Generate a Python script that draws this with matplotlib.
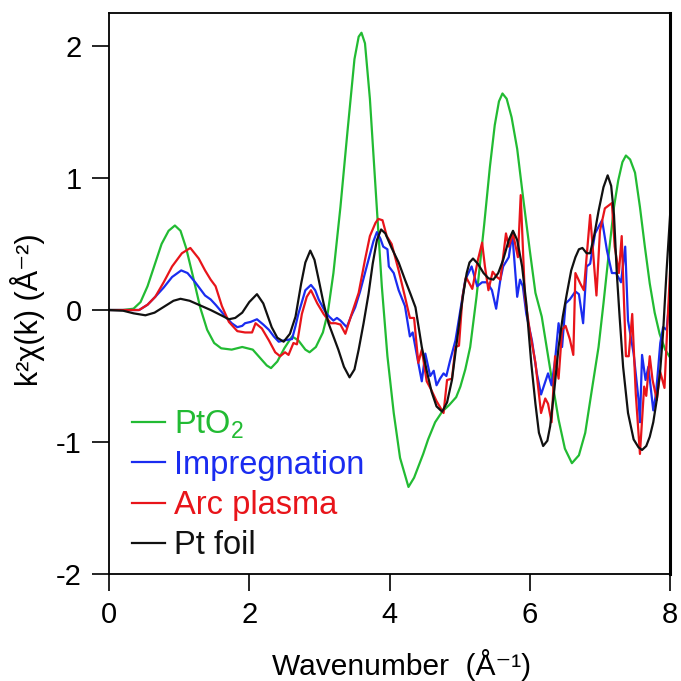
import matplotlib
matplotlib.use('Agg')
import matplotlib.pyplot as plt
import numpy as np

plt.rcParams['font.family'] = ['Liberation Sans', 'DejaVu Sans']
plt.rcParams['mathtext.fontset'] = 'custom'
plt.rcParams['mathtext.rm'] = 'Liberation Sans'
plt.rcParams['mathtext.it'] = 'Liberation Sans'
plt.rcParams['mathtext.default'] = 'rm'
plt.rcParams['axes.unicode_minus'] = False
plt.rcParams['font.size'] = 21

# PtO2 reference
k_pto2 = [0.00, 0.20, 0.35, 0.45, 0.55, 0.65, 0.75, 0.85, 0.94, 1.02, 1.10, 1.20, 1.30, 1.40, 1.50, 1.60,
          1.75, 1.90, 2.05, 2.15, 2.25, 2.31, 2.40, 2.50, 2.61, 2.70, 2.80, 2.86, 2.95, 3.05, 3.12, 3.20,
          3.30, 3.40, 3.50, 3.56, 3.60, 3.65, 3.72, 3.80, 3.89, 3.97, 4.06, 4.15, 4.27, 4.35, 4.48, 4.55,
          4.65, 4.75, 4.85, 4.95, 5.01, 5.08, 5.15, 5.24, 5.30, 5.35, 5.43, 5.50, 5.56, 5.61, 5.67, 5.74,
          5.82, 5.90, 6.00, 6.08, 6.17, 6.30, 6.41, 6.50, 6.60, 6.70, 6.79, 6.88, 6.98, 7.05, 7.12, 7.20,
          7.26, 7.32, 7.37, 7.43, 7.50, 7.57, 7.64, 7.71, 7.78, 7.85, 7.93, 8.00]
v_pto2 = [0.00, 0.00, 0.01, 0.06, 0.18, 0.34, 0.50, 0.60, 0.64, 0.60, 0.47, 0.25, 0.02, -0.15, -0.25, -0.29,
          -0.30, -0.28, -0.30, -0.36, -0.42, -0.44, -0.39, -0.29, -0.20, -0.23, -0.30, -0.32, -0.28, -0.17, -0.02, 0.28,
          0.78, 1.35, 1.90, 2.07, 2.10, 2.02, 1.60, 0.93, 0.18, -0.35, -0.78, -1.12, -1.34, -1.27, -1.09, -0.98,
          -0.85, -0.77, -0.72, -0.66, -0.58, -0.45, -0.28, 0.10, 0.40, 0.65, 1.08, 1.40, 1.58, 1.64, 1.60, 1.46,
          1.22, 0.87, 0.45, 0.13, -0.05, -0.48, -0.83, -1.05, -1.16, -1.10, -0.93, -0.62, -0.28, 0.05, 0.40, 0.78,
          0.98, 1.12, 1.17, 1.14, 1.04, 0.78, 0.48, 0.20, -0.02, -0.18, -0.30, -0.36]

# Impregnation
k_imp = [0.00, 0.20, 0.43, 0.55, 0.66, 0.78, 0.90, 1.03, 1.12, 1.23, 1.30, 1.37, 1.45, 1.52, 1.60, 1.66,
         1.75, 1.83, 1.90, 1.94, 2.02, 2.11, 2.20, 2.28, 2.35, 2.42, 2.50, 2.61, 2.66, 2.70, 2.80, 2.88,
         2.94, 2.99, 3.08, 3.14, 3.20, 3.25, 3.30, 3.39, 3.45, 3.51, 3.58, 3.65, 3.72, 3.77, 3.82, 3.87,
         3.91, 3.97, 3.99, 4.06, 4.13, 4.22, 4.29, 4.33, 4.41, 4.46, 4.51, 4.58, 4.63, 4.67, 4.72, 4.77,
         4.81, 4.86, 4.94, 5.01, 5.08, 5.17, 5.25, 5.32, 5.39, 5.46, 5.52, 5.58, 5.62, 5.70, 5.75, 5.82,
         5.86, 5.90, 5.95, 6.03, 6.10, 6.16, 6.26, 6.31, 6.36, 6.41, 6.46, 6.51, 6.57, 6.65, 6.70, 6.76,
         6.81, 6.86, 6.93, 6.98, 7.03, 7.10, 7.17, 7.23, 7.30, 7.36, 7.40, 7.48, 7.55, 7.57, 7.60, 7.65,
         7.69, 7.76, 7.80, 7.86, 7.90, 7.95, 8.00]
v_imp = [0.00, 0.00, 0.00, 0.04, 0.10, 0.17, 0.25, 0.30, 0.28, 0.21, 0.16, 0.11, 0.08, 0.04, -0.01, -0.05,
         -0.10, -0.13, -0.12, -0.10, -0.09, -0.07, -0.11, -0.15, -0.20, -0.24, -0.23, -0.22, -0.12, -0.03, 0.15, 0.19,
         0.15, 0.08, -0.01, -0.05, -0.08, -0.06, -0.08, -0.13, -0.05, 0.02, 0.14, 0.28, 0.42, 0.52, 0.59, 0.54,
         0.48, 0.46, 0.33, 0.28, 0.15, 0.03, -0.20, -0.17, -0.40, -0.54, -0.33, -0.50, -0.46, -0.57, -0.52, -0.48,
         -0.50, -0.39, -0.23, 0.00, 0.23, 0.33, 0.18, 0.21, 0.21, 0.15, 0.01, 0.23, 0.33, 0.40, 0.58, 0.10,
         0.23, 0.18, -0.03, -0.23, -0.48, -0.64, -0.48, -0.57, -0.38, -0.10, -0.28, 0.05, 0.08, 0.14, 0.12, -0.10,
         0.33, 0.35, 0.58, 0.63, 0.68, 0.45, 0.28, 0.28, 0.21, 0.48, -0.08, -0.33, -0.68, -0.85, -0.34, -0.53,
         -0.43, -0.76, -0.63, -0.25, -0.13, -0.15, 0.13]

# Arc plasma
k_arc = [0.00, 0.20, 0.43, 0.55, 0.66, 0.78, 0.90, 1.04, 1.16, 1.28, 1.37, 1.45, 1.52, 1.61, 1.71, 1.83,
         1.94, 2.04, 2.09, 2.18, 2.28, 2.37, 2.44, 2.51, 2.56, 2.63, 2.68, 2.75, 2.82, 2.88, 2.97, 3.06,
         3.16, 3.23, 3.30, 3.37, 3.46, 3.56, 3.65, 3.72, 3.80, 3.84, 3.90, 3.96, 4.03, 4.13, 4.22, 4.29,
         4.35, 4.41, 4.46, 4.53, 4.60, 4.67, 4.77, 4.82, 4.89, 4.94, 4.99, 5.04, 5.09, 5.18, 5.26, 5.32,
         5.36, 5.41, 5.47, 5.53, 5.58, 5.66, 5.70, 5.76, 5.83, 5.87, 5.93, 6.00, 6.08, 6.16, 6.22, 6.26,
         6.31, 6.36, 6.41, 6.46, 6.51, 6.57, 6.62, 6.65, 6.72, 6.77, 6.86, 6.90, 6.95, 7.00, 7.07, 7.17,
         7.21, 7.27, 7.31, 7.37, 7.41, 7.46, 7.51, 7.57, 7.63, 7.66, 7.71, 7.75, 7.81, 7.86, 7.92, 7.96,
         8.00]
v_arc = [0.00, 0.00, 0.00, 0.04, 0.10, 0.21, 0.33, 0.43, 0.47, 0.39, 0.30, 0.23, 0.18, 0.03, -0.09, -0.16,
         -0.17, -0.17, -0.10, -0.14, -0.23, -0.32, -0.35, -0.32, -0.34, -0.25, -0.26, -0.03, 0.10, 0.15, 0.05, -0.03,
         -0.10, -0.10, -0.11, -0.18, -0.03, 0.13, 0.38, 0.56, 0.66, 0.69, 0.68, 0.56, 0.50, 0.30, 0.10, -0.06,
         -0.06, -0.40, -0.30, -0.54, -0.61, -0.69, -0.78, -0.53, -0.52, -0.28, -0.27, 0.10, 0.25, 0.16, 0.38, 0.51,
         0.33, 0.15, 0.29, 0.25, 0.23, 0.58, 0.48, 0.58, 0.40, 0.87, 0.10, -0.16, -0.40, -0.78, -0.67, -0.71,
         -0.85, -0.35, -0.52, -0.15, -0.12, -0.22, -0.34, 0.28, 0.20, 0.15, 0.72, 0.45, 0.11, 0.60, 0.77, 0.81,
         0.48, 0.28, 0.56, -0.35, -0.35, -0.03, -0.63, -1.09, -0.58, -0.65, -0.35, -0.53, -0.68, -0.47, -0.59, -0.13,
         0.30]

# Pt foil
k_foil = [0.00, 0.20, 0.35, 0.52, 0.65, 0.80, 0.92, 1.02, 1.15, 1.30, 1.45, 1.60, 1.71, 1.80, 1.90, 2.00,
          2.11, 2.20, 2.32, 2.40, 2.49, 2.58, 2.66, 2.74, 2.80, 2.87, 2.93, 2.99, 3.06, 3.13, 3.20, 3.27,
          3.35, 3.43, 3.50, 3.56, 3.63, 3.70, 3.76, 3.82, 3.88, 3.94, 4.03, 4.13, 4.22, 4.30, 4.37, 4.46,
          4.53, 4.60, 4.67, 4.75, 4.82, 4.89, 4.95, 5.01, 5.06, 5.10, 5.14, 5.19, 5.26, 5.34, 5.41, 5.48,
          5.55, 5.62, 5.70, 5.76, 5.82, 5.89, 5.95, 6.02, 6.08, 6.13, 6.19, 6.25, 6.29, 6.35, 6.41, 6.47,
          6.53, 6.59, 6.65, 6.70, 6.75, 6.81, 6.86, 6.92, 6.98, 7.05, 7.11, 7.16, 7.20, 7.24, 7.28, 7.33,
          7.40, 7.48, 7.55, 7.60, 7.66, 7.71, 7.76, 7.81, 7.86, 7.90, 7.95, 8.00]
v_foil = [0.00, -0.005, -0.025, -0.04, -0.02, 0.03, 0.07, 0.085, 0.07, 0.035, 0.00, -0.04, -0.07, -0.06, -0.02, 0.06,
          0.12, 0.05, -0.13, -0.21, -0.24, -0.18, -0.05, 0.20, 0.36, 0.45, 0.38, 0.23, 0.05, -0.10, -0.20, -0.30,
          -0.43, -0.51, -0.45, -0.30, -0.10, 0.12, 0.35, 0.53, 0.61, 0.58, 0.47, 0.36, 0.23, 0.12, 0.02, -0.28,
          -0.46, -0.62, -0.73, -0.77, -0.70, -0.53, -0.28, -0.03, 0.15, 0.28, 0.36, 0.39, 0.35, 0.28, 0.24, 0.23,
          0.28, 0.38, 0.53, 0.60, 0.53, 0.33, 0.05, -0.40, -0.71, -0.93, -1.03, -0.99, -0.88, -0.60, -0.28, -0.05,
          0.13, 0.30, 0.40, 0.46, 0.47, 0.43, 0.43, 0.57, 0.75, 0.93, 1.02, 0.94, 0.72, 0.28, -0.05, -0.43,
          -0.78, -0.98, -1.04, -1.06, -1.03, -0.96, -0.85, -0.68, -0.45, -0.17, 0.30, 0.72]

labels = ['PtO$_2$', 'Impregnation', 'Arc plasma', 'Pt foil']
colors = ['#22bb33', '#1a2cf0', '#e8141a', '#111111']

fig = plt.figure(figsize=(6.81, 6.81), dpi=100)
ax = fig.add_axes([0.160, 0.157, 0.824, 0.824])

series = [(k_pto2, v_pto2), (k_imp, v_imp), (k_arc, v_arc), (k_foil, v_foil)]
for (k, v), lab, c in zip(series, labels, colors):
    ax.plot(k, v, color=c, linewidth=1.6, label=lab)

ax.set_xlim(0, 8)
ax.set_ylim(-2, 2.25)
ax.set_xticks([0, 2, 4, 6, 8])
ax.set_yticks([-2, -1, 0, 1, 2])
ax.tick_params(direction='out', length=12, width=1.2, top=False, right=False, pad=7.5, labelsize=21)
for side in ['left', 'bottom', 'top']:
    ax.spines[side].set_linewidth(1.3)
ax.spines['right'].set_linewidth(2.2)

ax.set_xlabel('Wavenumber  (Å⁻¹)', fontsize=21.5)
ax.set_ylabel('k²χ(k) (Å⁻²)', fontsize=22)
ax.xaxis.set_label_coords(0.522, -0.133)
ax.yaxis.set_label_coords(-0.114, 0.4706)

ax.legend(loc='lower left', bbox_to_anchor=(0.041, 0.023), frameon=False, borderpad=0,
          borderaxespad=0, handlelength=1.0, handletextpad=0.3, labelspacing=0.28,
          fontsize=23.5, labelcolor='linecolor')

plt.savefig('out.png', dpi=100)
